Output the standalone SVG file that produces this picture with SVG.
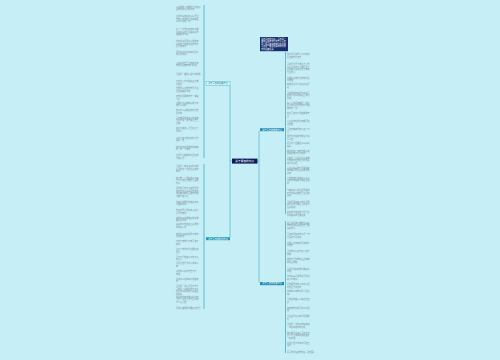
<svg xmlns="http://www.w3.org/2000/svg" width="500" height="360" viewBox="0 0 500 360">
<style>
text{font-family:"Noto Sans CJK SC","Noto Sans",sans-serif}
.t{font-size:2.05px;fill:#7b8d93}
.w{font-size:2.2px;fill:#ffffff}
.c{font-size:2.7px;fill:#ffffff}
.spine{stroke:#45adc0;stroke-width:0.8;fill:none}
.con{stroke:#5bbdcd;stroke-width:0.8;fill:none}
</style>
<rect width="500" height="360" fill="#c6eef7"/>
<g id="connectors">
<path class="con" d="M232 161H230V85.2M230 161V237.2"/>
<path class="con" d="M257.5 161H259V131M259 161V282"/>
<path class="spine" d="M204 5V158M204 164V309"/>
<path class="spine" d="M285.5 52V214M285.5 221V353"/>
</g>
<g id="center"><rect x="232" y="158.6" width="25.5" height="5" fill="#111b5c"/><text class="c" x="244.75" y="162.1" text-anchor="middle">关于青春的句子</text></g>
<g id="branch-l1"><rect x="206" y="81.6" width="24" height="3.6" fill="#d3f5fb" stroke="#3bb0c8" stroke-width="0.4"/><text class="w" style="fill:#2d7f90" x="218" y="84.2" text-anchor="middle">关于青春的经典句子</text></g>
<g id="branch-l2"><rect x="206" y="237.2" width="24" height="3" fill="#1b9db5"/><text class="w" x="218" y="239.5" text-anchor="middle">关于青春的励志句子</text></g>
<g id="branch-r1"><rect x="260" y="128.2" width="24" height="3" fill="#1e8db4"/><text class="w" x="272" y="130.5" text-anchor="middle">关于青春的唯美句子</text></g>
<g id="branch-r2"><rect x="260" y="282" width="24" height="3.2" fill="#1e8db4"/><text class="w" x="272" y="284.4" text-anchor="middle">关于青春的优美句子</text></g>
<g id="intro"><rect x="260" y="37" width="28" height="14.2" fill="#15306e"/><text class="w" style="font-size:2.05px" x="261.2" y="39.6">关于青春的句子：青春是一<tspan x="261.2" dy="2.6">首歌回荡着我们的笑声青春</tspan><tspan x="261.2" dy="2.6">是一幅画镌刻着我们的足迹</tspan><tspan x="261.2" dy="2.6">青春是一本书记录着我们的</tspan><tspan x="261.2" dy="2.6">成长经典语录</tspan></text></g>
<g id="leaves-l1">
<g id="l1a"><text class="t" x="176" y="7.5">人生就像一场旅行不必在乎<tspan x="176" dy="2.5">目的地和沿途的风景</tspan></text></g>
<g id="l1b"><text class="t" x="176" y="17">生活中最美好的事情莫过<tspan x="176" dy="2.5">于有人懂你的沉默和眼泪</tspan><tspan x="176" dy="2.5">时间会证明一切</tspan></text></g>
<g id="l1c"><text class="t" x="176" y="30">每一个不曾起舞的日子都<tspan x="176" dy="2.5">是对生命的辜负要好好珍</tspan><tspan x="176" dy="2.5">惜眼前的时光</tspan></text></g>
<g id="l1d"><text class="t" x="176" y="42">阳光总在风雨后请相信有<tspan x="176" dy="2.5">彩虹努力奔跑追逐梦想不</tspan><tspan x="176" dy="2.5">负青春年华</tspan></text></g>
<g id="l1e"><text class="t" x="176" y="52.5">愿你出走半生归来仍是少<tspan x="176" dy="2.5">年岁月静好</tspan></text></g>
<g id="l1f"><text class="t" x="176" y="63.5">心若向阳无畏悲伤前方总<tspan x="176" dy="2.5">有光亮照耀着我们前进</tspan></text></g>
<g id="l1g"><text class="t" x="176" y="74.5">青春是一首永远唱不完的歌</text></g>
<g id="l1h"><text class="t" x="176" y="82">不忘初心方得始终坚持就<tspan x="176" dy="2.5">是胜利</tspan></text></g>
<g id="l1i"><text class="t" x="176" y="89">世界那么大我想去看看走<tspan x="176" dy="2.5">过的路都是风景</tspan></text></g>
<g id="l1j"><text class="t" x="176" y="97">梦想还是要有的万一实现<tspan x="176" dy="2.5">了呢</tspan></text></g>
<g id="l1k"><text class="t" x="176" y="103.5">只要功夫深铁杵磨成针有<tspan x="176" dy="2.5">志者事竟成</tspan></text></g>
<g id="l1l"><text class="t" x="176" y="111">宝剑锋从磨砺出梅花香自<tspan x="176" dy="2.5">苦寒来</tspan></text></g>
<g id="l1m"><text class="t" x="176" y="118.5">青春就是用来奋斗的趁年<tspan x="176" dy="2.5">轻多去闯一闯不要让自己</tspan><tspan x="176" dy="2.5">后悔</tspan></text></g>
<g id="l1n"><text class="t" x="176" y="129">路漫漫其修远兮吾将上下<tspan x="176" dy="2.5">而求索</tspan></text></g>
<g id="l1o"><text class="t" x="176" y="138.5">少壮不努力老大徒伤悲珍<tspan x="176" dy="2.5">惜每一天</tspan></text></g>
<g id="l1p"><text class="t" x="176" y="147.5">成功没有捷径唯有脚踏实<tspan x="176" dy="2.5">地一步一个脚印</tspan></text></g>
<g id="l1q"><text class="t" x="176" y="156">生活不止眼前的苟且还有<tspan x="176" dy="2.5">诗和远方</tspan></text></g>
</g>
<g id="leaves-l2">
<g id="l2a"><text class="t" x="176" y="167">青春是一本太仓促的书我<tspan x="176" dy="2.5">们含着泪一读再读最美的</tspan><tspan x="176" dy="2.5">年华</tspan></text></g>
<g id="l2b"><text class="t" x="176" y="178.5">努力做一个温暖的人不卑<tspan x="176" dy="2.5">不亢清澈善良做自己喜欢</tspan><tspan x="176" dy="2.5">的事</tspan></text></g>
<g id="l2c"><text class="t" x="176" y="189">愿你的青春不负梦想愿你<tspan x="176" dy="2.5">的梦想有人分享愿所有的</tspan><tspan x="176" dy="2.5">美好都如期而至所有的努</tspan><tspan x="176" dy="2.5">力都不被辜负</tspan></text></g>
<g id="l2d"><text class="t" x="176" y="202.5">没有比脚更长的路没有比<tspan x="176" dy="2.5">人更高的山</tspan></text></g>
<g id="l2e"><text class="t" x="176" y="211">你若盛开清风自来心若浮<tspan x="176" dy="2.5">沉浅笑安然</tspan></text></g>
<g id="l2f"><text class="t" x="176" y="218.5">天再高又怎样踮起脚尖就<tspan x="176" dy="2.5">更接近阳光</tspan></text></g>
<g id="l2g"><text class="t" x="176" y="225">最好的时光在路上最美的<tspan x="176" dy="2.5">风景在心里</tspan></text></g>
<g id="l2h"><text class="t" x="176" y="234.5">趁阳光正好趁微风不燥去<tspan x="176" dy="2.5">追逐梦想</tspan></text></g>
<g id="l2i"><text class="t" x="176" y="242">时光不老我们不散青春不<tspan x="176" dy="2.5">散场</tspan></text></g>
<g id="l2j"><text class="t" x="176" y="250">坚持下去你会看到更好的<tspan x="176" dy="2.5">自己</tspan></text></g>
<g id="l2k"><text class="t" x="176" y="257.5">星光不问赶路人时光不负<tspan x="176" dy="2.5">有心人</tspan></text></g>
<g id="l2l"><text class="t" x="176" y="264">凡是过往皆为序章未来可<tspan x="176" dy="2.5">期</tspan></text></g>
<g id="l2m"><text class="t" x="176" y="272">追光的人终会光芒万丈<tspan x="176" dy="2.5">加油</tspan></text></g>
<g id="l2n"><text class="t" x="176" y="279.5">且将新火试新茶诗酒趁年<tspan x="176" dy="2.5">华</tspan></text></g>
<g id="l2o"><text class="t" x="176" y="287">青春是一场远行回不去了<tspan x="176" dy="2.5">青春是一场相逢忘不掉了</tspan><tspan x="176" dy="2.5">但青春却留给我们最宝贵</tspan><tspan x="176" dy="2.5">的友情</tspan></text></g>
<g id="l2p"><text class="t" x="176" y="297.5">用最美的年华做最好的自<tspan x="176" dy="2.5">己不辜负自己不辜负时光</tspan><tspan x="176" dy="2.5">不辜负青春</tspan></text></g>
<g id="l2q"><text class="t" x="176" y="308.5">愿我们都能成为更好的自己</text></g>
</g>
<g id="leaves-r1">
<g id="r1a"><text class="t" x="287" y="55">我们的青春永远不会散场<tspan x="287" dy="2.5">愿友谊地久天长</tspan></text></g>
<g id="r1b"><text class="t" x="287" y="65">青春是打开了就合不上的<tspan x="287" dy="2.5">书人生是踏上了就回不了</tspan><tspan x="287" dy="2.5">头的路爱情是扔出了就收</tspan><tspan x="287" dy="2.5">不回的心</tspan></text></g>
<g id="r1c"><text class="t" x="287" y="78.5">不要在最能吃苦的年纪选<tspan x="287" dy="2.5">择安逸</tspan></text></g>
<g id="r1d"><text class="t" x="287" y="85">趁年轻多学习多读书多行<tspan x="287" dy="2.5">走</tspan></text></g>
<g id="r1e"><text class="t" x="287" y="93.5">青春的脚步如行云流水青<tspan x="287" dy="2.5">春的岁月似锦如画让我们</tspan><tspan x="287" dy="2.5">珍惜</tspan></text></g>
<g id="r1f"><text class="t" x="287" y="103.5">每个人的青春都是一场修<tspan x="287" dy="2.5">行只有经历过才懂得珍惜</tspan><tspan x="287" dy="2.5">拥有的一切</tspan></text></g>
<g id="r1g"><text class="t" x="287" y="114">别让青春留下遗憾勇敢去<tspan x="287" dy="2.5">追</tspan></text></g>
<g id="r1h"><text class="t" x="287" y="122">人生没有彩排每天都是现<tspan x="287" dy="2.5">场直播</tspan></text></g>
<g id="r1i"><text class="t" x="287" y="129.5">青春无悔梦想无价奋斗不<tspan x="287" dy="2.5">止</tspan></text></g>
<g id="r1j"><text class="t" x="287" y="137">用汗水浇灌梦想用坚持书<tspan x="287" dy="2.5">写青春</tspan></text></g>
<g id="r1k"><text class="t" x="287" y="144">愿岁月可回首且以深情共<tspan x="287" dy="2.5">白头</tspan></text></g>
<g id="r1l"><text class="t" x="287" y="151.5">再长的路一步步也能走完<tspan x="287" dy="2.5">再短的路不迈开双脚</tspan></text></g>
<g id="r1m"><text class="t" x="287" y="158.5">青春是一段跌跌撞撞的旅<tspan x="287" dy="2.5">行拥有着后知后觉的美丽</tspan><tspan x="287" dy="2.5">来不及感悟</tspan></text></g>
<g id="r1n"><text class="t" x="287" y="168.5">人生最精彩的不是实现梦<tspan x="287" dy="2.5">想的瞬间而是坚持梦想的</tspan><tspan x="287" dy="2.5">过程</tspan></text></g>
<g id="r1o"><text class="t" x="287" y="178.5">青春的我们没有什么不可<tspan x="287" dy="2.5">以梦想就在前方勇往直前</tspan><tspan x="287" dy="2.5">吧</tspan></text></g>
<g id="r1p"><text class="t" x="287" y="191">与其在别人的生活里跑龙<tspan x="287" dy="2.5">套不如精彩做自己生活的</tspan><tspan x="287" dy="2.5">主角</tspan></text></g>
<g id="r1q"><text class="t" x="287" y="202.5">青春是用来奋斗的不是用<tspan x="287" dy="2.5">来挥霍的不要让青春留下</tspan><tspan x="287" dy="2.5">太多遗憾</tspan></text></g>
<g id="r1r"><text class="t" x="287" y="213">梦在前方路在脚下自己选<tspan x="287" dy="2.5">择的路跪着也要走完</tspan></text></g>
</g>
<g id="leaves-r2">
<g id="r2a"><text class="t" x="287" y="223.5">致青春愿我们都能在最好<tspan x="287" dy="2.5">的年纪遇见最好的自己做</tspan><tspan x="287" dy="2.5">最好的事</tspan></text></g>
<g id="r2b"><text class="t" x="287" y="235">青春如同奔流的江河一去<tspan x="287" dy="2.5">不回来不及道别</tspan></text></g>
<g id="r2c"><text class="t" x="287" y="243.5">只要心中有梦想青春就不<tspan x="287" dy="2.5">会老去</tspan></text></g>
<g id="r2d"><text class="t" x="287" y="252">青春的意义在于奋斗在于<tspan x="287" dy="2.5">拼搏</tspan></text></g>
<g id="r2e"><text class="t" x="287" y="260">相信自己你能作茧自缚就<tspan x="287" dy="2.5">能破茧成蝶</tspan></text></g>
<g id="r2f"><text class="t" x="287" y="269.5">青春是美好的我们要好好<tspan x="287" dy="2.5">珍惜</tspan></text></g>
<g id="r2g"><text class="t" x="287" y="277">时光荏苒青春易逝莫等闲<tspan x="287" dy="2.5">白了少年头</tspan></text></g>
<g id="r2h"><text class="t" x="287" y="285">愿你眼里有光心中有爱目<tspan x="287" dy="2.5">光所至皆是春华</tspan></text></g>
<g id="r2i"><text class="t" x="287" y="292">奔跑吧少年前方是星辰大<tspan x="287" dy="2.5">海</tspan></text></g>
<g id="r2j"><text class="t" x="287" y="300">青春没有售价火车直达拉<tspan x="287" dy="2.5">萨</tspan></text></g>
<g id="r2k"><text class="t" x="287" y="308.5">有梦就去追吧青春不留遗<tspan x="287" dy="2.5">憾</tspan></text></g>
<g id="r2l"><text class="t" x="287" y="317">不负韶华只争朝夕砥砺前<tspan x="287" dy="2.5">行</tspan></text></g>
<g id="r2m"><text class="t" x="287" y="325">青春是一场盛大的暗恋和<tspan x="287" dy="2.5">一场没有结局的追逐</tspan></text></g>
<g id="r2n"><text class="t" x="287" y="333.5">我们都是追梦人青春不息<tspan x="287" dy="2.5">奋斗不止未来的路还很长</tspan><tspan x="287" dy="2.5">一起加油</tspan></text></g>
<g id="r2o"><text class="t" x="287" y="343.5">岁月不居时节如流青春正<tspan x="287" dy="2.5">当时</tspan></text></g>
<g id="r2p"><text class="t" x="287" y="353">愿青春永驻梦想成真  青春语录</text></g>
</g>
</svg>
